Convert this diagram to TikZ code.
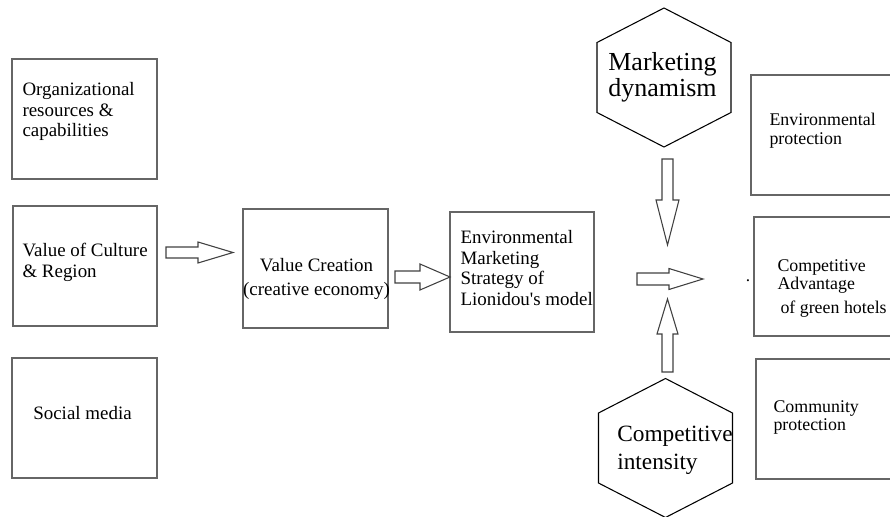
\documentclass[tikz,border=0pt]{standalone}
\usepackage{fontspec}
\setmainfont{Liberation Serif}

% outlined block arrow: tail, angle, length, head length, shaft half width, head half width
\newcommand{\hollowarrow}[6]{%
  \draw[arrowline,shift={#1},rotate=#2] (0,#5) -- ({#3-#4},#5) -- ({#3-#4},#6) -- (#3,0)
    -- ({#3-#4},-#6) -- ({#3-#4},-#5) -- (0,-#5) -- cycle;}

\tikzset{hexa/.pic={\draw[hexline] (0,-69.5) -- (67,-35) -- (67,35) -- (0,69.5) -- (-67,35) -- (-67,-35) -- cycle;}}

\begin{document}
\begin{tikzpicture}[x=0.75pt,y=-0.75pt,
box/.style={draw=black!60,line width=1.1pt,rectangle,inner sep=0pt},
boxtext/.style={inner sep=0pt,align=left,font=\fontsize{14.2}{15.4}\selectfont},
sidetext/.style={inner sep=0pt,align=left,font=\fontsize{13.4}{14}\selectfont},
arrowline/.style={draw=black!75,line width=0.8pt},
hexline/.style={draw=black,line width=0.8pt}]

\useasboundingbox (0,0) rectangle (890,517);
\clip (0,0) rectangle (890,517);

% left column
\node[box,minimum width=108.75pt,minimum height=90pt] (orgres) at (84.5,119) {};
\node[box,minimum width=108pt,minimum height=90pt] (culture) at (85,266) {};
\node[box,minimum width=108.75pt,minimum height=90pt] (social) at (84.5,418) {};
\node[boxtext,anchor=west] (orgres-txt) at ([shift={(11,-7.5)}]orgres.west) {Organizational\\resources \&\\capabilities};
\node[boxtext,anchor=west] (culture-txt) at ([shift={(10,-3.5)}]culture.west) {Value~of~Culture\\\& Region};
\node[boxtext] (social-txt) at ([shift={(-2,-5)}]social.center) {Social media};

% middle
\node[box,minimum width=108.75pt,minimum height=89.25pt] (valcre) at (315.5,268.5) {};
\node[box,minimum width=108pt,minimum height=90pt] (envmkt) at (522,272) {};
\node[boxtext,align=center] (valcre-txt) at ([shift={(1,10.5)}]valcre.center) {Value Creation\\[2pt](creative~economy)};
\node[boxtext,anchor=west] (envmkt-txt) at ([shift={(11,-4)}]envmkt.west) {Environmental\\Marketing\\Strategy of\\Lionidou\textquotesingle s~model};

\hollowarrow{(166,252.5)}{0}{67}{35}{5.5}{10.5}
\hollowarrow{(395,277)}{0}{55}{30}{6}{13}
\hollowarrow{(637,279)}{0}{66}{34}{6}{10.5}
\hollowarrow{(667.5,159)}{-90}{86}{45}{5.5}{11.5}
\hollowarrow{(667.5,372)}{90}{73}{35}{5.5}{10.5}

% moderators
\pic (mktdyn) at (664,77.5) {hexa};
\pic (compint) at (665.5,448) {hexa};
\node[inner sep=0pt,align=center,font=\fontsize{19.5}{19.5}\selectfont] (mktdyn-txt) at (662.5,77) {Marketing\\dynamism};
\node[inner sep=0pt,align=left,font=\fontsize{17.5}{21}\selectfont,anchor=west] (compint-txt) at (617,450) {Competitive\\intensity};

% outcomes
\node[box,minimum width=115.5pt,minimum height=90pt] (envprot) at (828,135) {};
\node[box,minimum width=113.25pt,minimum height=89.25pt] (compadv) at (829.5,276.5) {};
\node[box,minimum width=111.75pt,minimum height=90pt] (commun) at (830.5,419) {};
\node[sidetext,anchor=west] (envprot-txt) at ([shift={(19,-4)}]envprot.west) {Environmental\\protection};
\node[sidetext,anchor=west] (compadv-txt) at ([shift={(24,12)}]compadv.west) {Competitive\\Advantage\\[4pt]\,of green hotels};
\node[sidetext,anchor=west] (commun-txt) at ([shift={(18,-1.5)}]commun.west) {Community\\protection};
\node[inner sep=0pt,font=\fontsize{13}{13}\selectfont] (dot) at (748,281) {.};

\end{tikzpicture}
\end{document}
